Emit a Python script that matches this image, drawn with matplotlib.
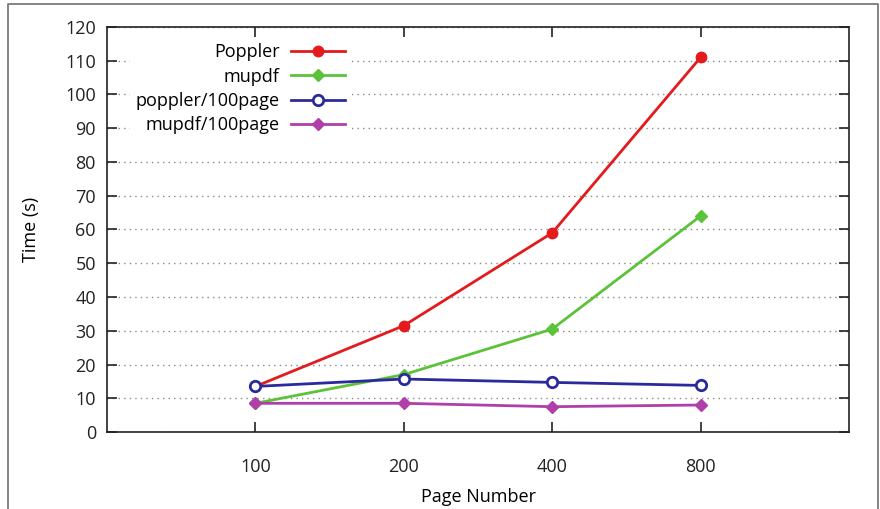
import matplotlib.pyplot as plt
from matplotlib.lines import Line2D

plt.rcParams['font.family'] = ['Open Sans', 'DejaVu Sans']

pages = ['100', '200', '400', '800']
poppler = [13.5, 31.5, 59.0, 111.0]
mupdf = [8.5, 17.0, 30.5, 64.0]
poppler_per100 = [13.5, 15.7, 14.7, 13.8]
mupdf_per100 = [8.5, 8.5, 7.5, 8.0]

x = list(range(1, len(pages) + 1))

fig = plt.figure(figsize=(8.8, 5.09), dpi=100)
ax = fig.add_axes([107 / 880, 1 - 432 / 509, (849 - 107) / 880, (432 - 27) / 509])

# outer frame (bottom edge runs off the picture)
W, H = 880, 509
frame = Line2D([8 / W, 8 / W, 878 / W, 878 / W],
               [-0.01, 1 - 4 / H, 1 - 4 / H, -0.01],
               transform=fig.transFigure, color='#707070', lw=1.2)
fig.lines.append(frame)

ax.plot(x, poppler, color='#e41a1c', lw=2.0, marker='o', ms=7.5, label='Poppler')
ax.plot(x, mupdf, color='#5cc23a', lw=2.0, marker='D', ms=6.5, label='mupdf')
ax.plot(x, poppler_per100, color='#2a2a9c', lw=2.0, marker='o', ms=7.5,
        mfc='white', mew=2.0, label='poppler/100page')
ax.plot(x, mupdf_per100, color='#b13fa9', lw=2.0, marker='D', ms=6.5, label='mupdf/100page')

ax.set_xlim(0, 5)
ax.set_ylim(0, 120)
ax.set_xticks(x)
ax.set_xticklabels(pages)
ax.set_yticks(range(0, 121, 10))

ax.tick_params(direction='in', length=7, width=1.2, colors='#222222',
               labelsize=13, top=True, right=True)
ax.tick_params(axis='x', pad=19)
ax.tick_params(axis='y', pad=8)
for s in ax.spines.values():
    s.set_linewidth(1.2)
    s.set_color('#222222')

ax.yaxis.grid(True, linestyle=(0, (1, 3)), color='#888888', lw=1.0)
ax.set_axisbelow(True)

ax.set_xlabel('Page Number', fontsize=13, labelpad=8)
ax.set_ylabel('Time (s)', fontsize=13, labelpad=18)

leg = ax.legend(loc='upper left', bbox_to_anchor=(0.019, 0.995), markerfirst=False,
                fontsize=13, frameon=True, facecolor='white', edgecolor='none',
                framealpha=1, handlelength=3.0, labelspacing=0.35,
                borderpad=0.3, handletextpad=0.6)

fig.savefig('out.png', dpi=100)
